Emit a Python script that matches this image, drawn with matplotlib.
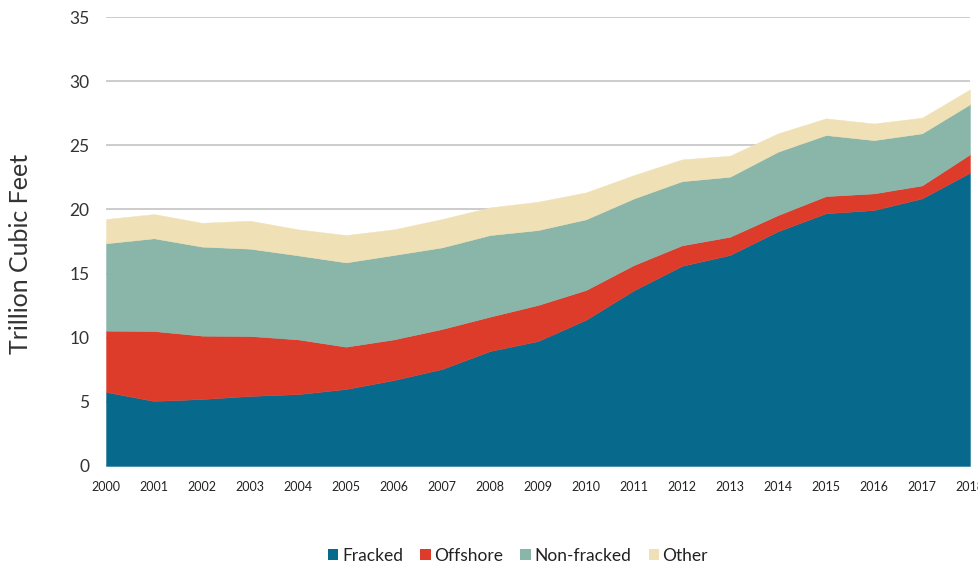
import matplotlib
matplotlib.use("Agg")
import matplotlib.pyplot as plt
from matplotlib.patches import Patch

plt.rcParams['font.family'] = ['Lato', 'DejaVu Sans']

years = list(range(2000, 2019))
fracked = [5.77, 5.07, 5.22, 5.46, 5.60, 6.00, 6.70, 7.56, 8.96, 9.74, 11.40,
           13.70, 15.60, 16.45, 18.30, 19.70, 19.95, 20.86, 22.86]
offshore = [4.78, 5.45, 4.94, 4.67, 4.27, 3.30, 3.17, 3.12, 2.68, 2.81, 2.32,
            1.97, 1.60, 1.42, 1.26, 1.34, 1.30, 1.01, 1.44]
nonfracked = [6.81, 7.23, 6.94, 6.81, 6.55, 6.57, 6.58, 6.36, 6.36, 5.84, 5.51,
              5.19, 5.00, 4.68, 4.94, 4.76, 4.15, 4.06, 3.90]
other = [1.89, 1.89, 1.86, 2.18, 2.03, 2.13, 2.00, 2.21, 2.16, 2.21, 2.10,
         1.82, 1.70, 1.64, 1.43, 1.30, 1.30, 1.22, 1.16]
labels = ['Fracked', 'Offshore', 'Non-fracked', 'Other']
colors = ['#07698C', '#DE3C2A', '#8AB6AA', '#F0E0B5']
yticks = [0, 5, 10, 15, 20, 25, 30, 35]

fig = plt.figure(figsize=(9.79, 5.65), dpi=100)
ax = fig.add_axes([106/979, 1-466/565, (970-106)/979, (466-17)/565])

ax.set_axisbelow(True)
ax.yaxis.grid(True, color='#C8C8C8', linewidth=1.3)
ax.stackplot(years, fracked, offshore, nonfracked, other, colors=colors,
             labels=labels, linewidth=0.3, edgecolor='face', zorder=2)

ax.set_xlim(2000, 2018)
ax.set_ylim(0, 35)
ax.set_yticks(yticks)
ax.set_xticks(years)
ax.set_xticklabels([str(y) for y in years], fontsize=9, color='#222222')
ax.set_yticklabels([str(t) for t in yticks], fontsize=12.5, color='#333333')
ax.tick_params(axis='both', length=0)
ax.tick_params(axis='y', pad=12)
ax.tick_params(axis='x', pad=11)
for s in ax.spines.values():
    s.set_visible(False)

fig.text(21/979, 1-254/565, 'Trillion Cubic Feet', rotation=90, fontsize=18,
         color='#333333', ha='center', va='center')

handles = [Patch(facecolor=c, edgecolor='none') for c in colors]
fig.legend(handles, labels, loc='center', bbox_to_anchor=(518/979, 1-556/565),
           ncol=4, frameon=False, fontsize=12.5, handlelength=0.6,
           handleheight=0.6, handletextpad=0.2, columnspacing=1.0,
           labelcolor='#222222')

fig.savefig('out.png', dpi=100)
